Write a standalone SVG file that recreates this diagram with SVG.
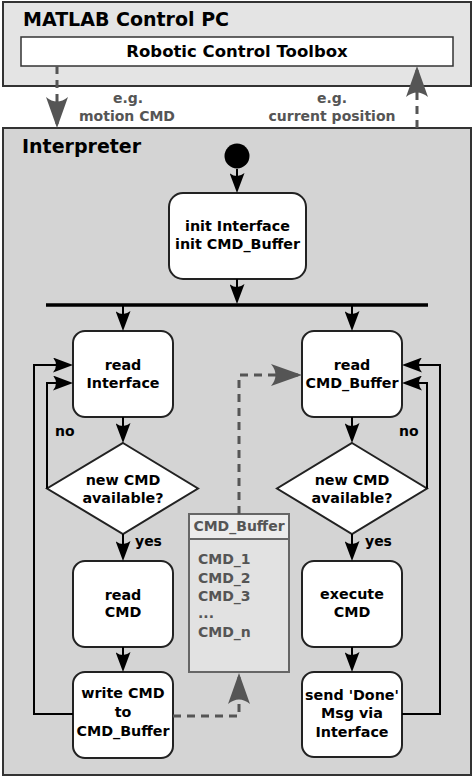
<svg xmlns="http://www.w3.org/2000/svg" width="474" height="777" viewBox="0 0 474 777">
<style>
text{font-family:"DejaVu Sans","Liberation Sans",sans-serif;font-weight:bold}
.t{font-size:14.3px;fill:#000;text-anchor:middle}
.h{font-size:19px;fill:#000}
.g{font-size:14px;fill:#555;text-anchor:middle}
.lbl{font-size:14px;fill:#000}
.box{fill:#fff;stroke:#222;stroke-width:2}
.ln{fill:none;stroke:#000;stroke-width:2}
.dl{fill:none;stroke:#555;stroke-width:3;stroke-dasharray:8 6}
.buf{font-size:14px;fill:#555}
</style>
<defs>
<marker id="ah" markerUnits="userSpaceOnUse" viewBox="0 0 20 15" refX="16" refY="7.5" markerWidth="20" markerHeight="15" orient="auto">
<path d="M20,7.5 L0,0 Q6,7.5 0,15 Z" fill="#000"/>
</marker>
<marker id="gh" markerUnits="userSpaceOnUse" viewBox="0 0 31 22" refX="27" refY="11" markerWidth="31" markerHeight="22" orient="auto">
<path d="M31,11 L0,0 Q9,11 0,22 Z" fill="#555"/>
</marker>
</defs>

<g id="matlab-pc">
<rect x="3" y="2" width="468" height="84" fill="#e4e4e4" stroke="#333" stroke-width="2"/>
<text class="h" x="23" y="26">MATLAB Control PC</text>
</g>
<g id="toolbox">
<rect x="21" y="37" width="432" height="29" fill="#fff" stroke="#333" stroke-width="1.5"/>
<text class="t" x="237" y="57" style="font-size:16.5px">Robotic Control Toolbox</text>
</g>
<g id="interpreter">
<rect x="3" y="128" width="468" height="647" fill="#d4d4d4" stroke="#333" stroke-width="2"/>
<text class="h" x="22" y="153">Interpreter</text>
</g>

<g id="start">
<circle cx="237" cy="156" r="12.5" fill="#000"/>
</g>
<g id="init">
<rect class="box" x="169" y="193" width="137" height="86" rx="14"/>
<text class="t" x="237.5" y="231">init Interface</text>
<text class="t" x="237.5" y="249">init CMD_Buffer</text>
</g>
<g id="fork">
<line x1="46" y1="305" x2="428" y2="305" stroke="#000" stroke-width="3.5"/>
</g>

<g id="read-interface">
<rect class="box" x="73" y="331" width="100" height="86" rx="12"/>
<text class="t" x="123" y="370">read</text>
<text class="t" x="123" y="388">Interface</text>
</g>
<g id="decision-left">
<polygon class="box" points="123,443 198,488.5 123,534 47,488.5"/>
<text class="t" x="123" y="485">new CMD</text>
<text class="t" x="123" y="503">available?</text>
</g>
<g id="read-cmd">
<rect class="box" x="73" y="561" width="100" height="86" rx="12"/>
<text class="t" x="123" y="600">read</text>
<text class="t" x="123" y="617">CMD</text>
</g>
<g id="write-cmd">
<rect class="box" x="73" y="672" width="100" height="86" rx="12"/>
<text class="t" x="123" y="698">write CMD</text>
<text class="t" x="123" y="717">to</text>
<text class="t" x="123" y="736">CMD_Buffer</text>
</g>

<g id="read-buffer">
<rect class="box" x="302" y="331" width="100" height="86" rx="12"/>
<text class="t" x="352" y="370">read</text>
<text class="t" x="352" y="388">CMD_Buffer</text>
</g>
<g id="decision-right">
<polygon class="box" points="352,443 427,488.5 352,534 277,488.5"/>
<text class="t" x="352" y="485">new CMD</text>
<text class="t" x="352" y="503">available?</text>
</g>
<g id="execute-cmd">
<rect class="box" x="302" y="561" width="100" height="86" rx="12"/>
<text class="t" x="352" y="599">execute</text>
<text class="t" x="352" y="617">CMD</text>
</g>
<g id="send-done">
<rect class="box" x="302" y="672" width="100" height="85" rx="12"/>
<text class="t" x="352" y="700">send 'Done'</text>
<text class="t" x="352" y="718">Msg via</text>
<text class="t" x="352" y="737">Interface</text>
</g>

<g id="cmd-buffer">
<rect x="189" y="514" width="100" height="158" fill="#e2e2e2" stroke="#666" stroke-width="2"/>
<rect x="189" y="514" width="100" height="25" fill="#ececec" stroke="#666" stroke-width="2"/>
<text class="buf" x="239" y="531" text-anchor="middle">CMD_Buffer</text>
<text class="buf" x="198" y="564">CMD_1</text>
<text class="buf" x="198" y="583">CMD_2</text>
<text class="buf" x="198" y="601">CMD_3</text>
<text class="buf" x="198" y="618">...</text>
<text class="buf" x="198" y="637">CMD_n</text>
</g>

<g id="connectors">
<path class="dl" d="M57,66 V124" marker-end="url(#gh)"/>
<path class="dl" d="M417,128 V70" marker-end="url(#gh)"/>
<path class="ln" d="M237,169 V189" marker-end="url(#ah)"/>
<path class="ln" d="M237,279 V300" marker-end="url(#ah)"/>
<path class="ln" d="M123,306 V327" marker-end="url(#ah)"/>
<path class="ln" d="M352,306 V327" marker-end="url(#ah)"/>
<path class="ln" d="M123,417 V439" marker-end="url(#ah)"/>
<path class="ln" d="M123,534 V557" marker-end="url(#ah)"/>
<path class="ln" d="M123,647 V668" marker-end="url(#ah)"/>
<path class="ln" d="M47,488.5 V383 H69" marker-end="url(#ah)"/>
<path class="ln" d="M73,714 H34 V365 H69" marker-end="url(#ah)"/>
<path class="ln" d="M352,417 V439" marker-end="url(#ah)"/>
<path class="ln" d="M352,534 V557" marker-end="url(#ah)"/>
<path class="ln" d="M352,647 V668" marker-end="url(#ah)"/>
<path class="ln" d="M427,488.5 V383 H406" marker-end="url(#ah)"/>
<path class="ln" d="M402,714 H440 V365 H406" marker-end="url(#ah)"/>
<path class="dl" d="M173,716 H239 V677" marker-end="url(#gh)"/>
<path class="dl" d="M239,514 V375 H298" marker-end="url(#gh)"/>
</g>

<g id="labels">
<text class="g" x="128" y="103">e.g.</text>
<text class="g" x="127" y="121">motion CMD</text>
<text class="g" x="332" y="103">e.g.</text>
<text class="g" x="332" y="121">current position</text>
<text class="lbl" x="55" y="436">no</text>
<text class="lbl" x="399" y="436">no</text>
<text class="lbl" x="135" y="546">yes</text>
<text class="lbl" x="365" y="546">yes</text>
</g>
</svg>
